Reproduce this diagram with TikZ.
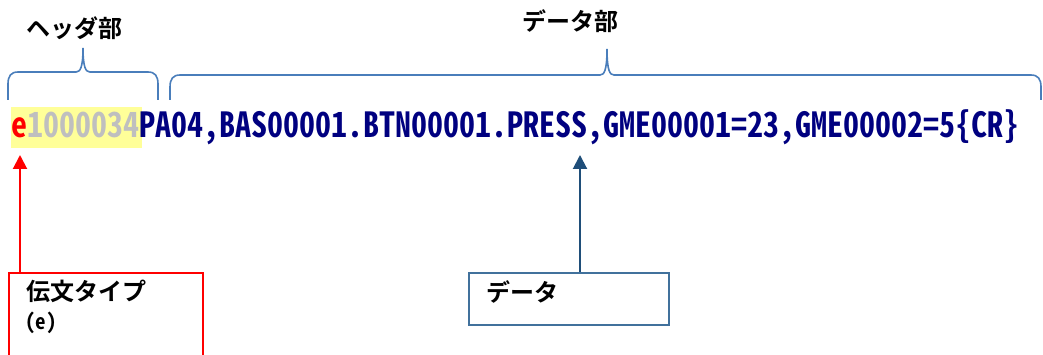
\documentclass[tikz,border=0pt]{standalone}
\usepackage{fontspec}
\usepackage{graphicx}
\usetikzlibrary{arrows.meta}
\newfontfamily\jp{Noto Sans CJK JP}[BoldFont={Noto Sans CJK JP Bold}]
\newfontfamily\hw{Noto Sans CJK JP Bold}[RawFeature=+hwid]
\definecolor{bracecol}{HTML}{4A7EBB}
\definecolor{navytext}{HTML}{000080}
\definecolor{graytext}{HTML}{BFBFBF}
\definecolor{hilite}{HTML}{FFFF99}
\definecolor{boxblue}{HTML}{41719C}
\definecolor{arrowblue}{HTML}{1F4E79}
\tikzset{
  bracket/.style={draw=bracecol, line width=1.6pt},
  jplabel/.style={font=\jp\bfseries\fontsize{24}{24}\selectfont, inner sep=0pt, anchor=west},
  redarrow/.style={draw=red, line width=2pt, -{Triangle[length=14pt,width=14pt]}},
  bluearrow/.style={draw=arrowblue, line width=2pt, -{Triangle[length=14pt,width=14pt]}},
}
\begin{document}
\begin{tikzpicture}[x=1pt,y=-1pt]
\useasboundingbox (0,0) rectangle (1043,355);
% highlight
\fill[hilite] (11,107) rectangle (142,148);
% main text
\node[inner sep=0pt, anchor=base west] (msg) at (11,138)
  {\scalebox{1}[1.08]{\hw\fontsize{32}{32}\selectfont
   {\color{red}e}{\color{graytext}1000034}{\color{navytext}PA04,BAS00001.BTN00001.PRESS,GME00001=23,GME00002=5\{CR\}}}};
% labels
\node[jplabel] (hdr) at (26,28) {ヘッダ部};
\node[jplabel] (dat) at (522,21) {データ部};
% header bracket
\draw[bracket] (8,100) -- (8,84) .. controls (8,76) and (11,72) .. (18,72)
  -- (76,72) .. controls (80,72) and (83,68) .. (83,48)
  .. controls (83,68) and (86,72) .. (90,72)
  -- (148,72) .. controls (155,72) and (158,76) .. (158,84) -- (158,100);
% data bracket
\draw[bracket] (170,100) -- (170,87) .. controls (170,79) and (173,75) .. (180,75)
  -- (600,75) .. controls (604,75) and (607,71) .. (607,49)
  .. controls (607,71) and (610,75) .. (614,75)
  -- (1031,75) .. controls (1038,75) and (1041,79) .. (1041,87) -- (1041,100);
% boxes
\node[draw=red, line width=2pt, anchor=north west, minimum width=194pt, minimum height=100pt, inner sep=0pt] (tbox) at (8,272) {};
\node[jplabel] (tlab) at (26,291) {伝文タイプ};
\node[inner sep=0pt, anchor=west] (tlab2) at (25,323) {\hw\fontsize{21}{21}\selectfont (e)};
\node[draw=boxblue, line width=2pt, anchor=north west, minimum width=200pt, minimum height=52pt, inner sep=0pt] (dbox) at (468,272) {};
\node[jplabel] (dlab) at (486,292) {データ};
% arrows
\coordinate (etip) at (20,155);
\coordinate (dtip) at (580,155);
\draw[redarrow] (etip |- tbox.north) -- (etip);
\draw[bluearrow] (dtip |- dbox.north) -- (dtip);
\end{tikzpicture}
\end{document}
